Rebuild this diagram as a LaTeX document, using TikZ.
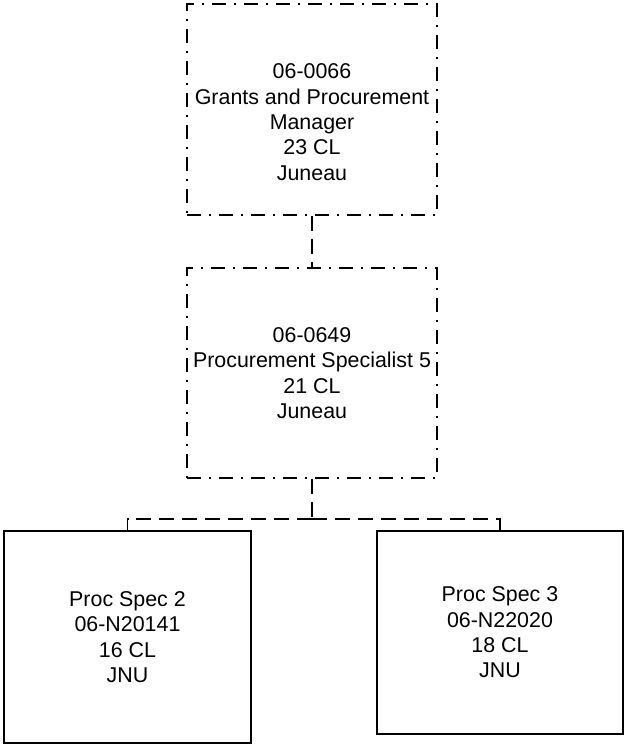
\documentclass[tikz,border=0pt]{standalone}
\usepackage{fontspec}
\setmainfont{Liberation Sans}
\usetikzlibrary{positioning}
\begin{document}
\begin{tikzpicture}[x=1pt,y=-1pt,
  lw/.style={line width=1.8pt},
  dashdot/.style={lw, dash pattern=on 14pt off 8pt on 2pt off 8pt},
  dashline/.style={lw, dash pattern=on 15pt off 8pt},
  posbox/.style={draw, lw, rectangle, inner sep=0pt, align=center,
     font=\fontsize{21.4}{25.3}\selectfont},
  mgrbox/.style={posbox, dashdot},
  conn/.style={dashline}
]
\useasboundingbox (0,0) rectangle (627,744);
\node[mgrbox, minimum width=250pt, minimum height=211pt] (b1) at (312,109.5)
  {\rule{0pt}{15pt}\\06-0066\\Grants and Procurement\\Manager\\23 CL\\Juneau};
\node[mgrbox, minimum width=250pt, minimum height=210pt] (b2) at (312,373)
  {06-0649\\Procurement Specialist 5\\21 CL\\Juneau};
\node[posbox, minimum width=247pt, minimum height=212pt] (b3) at (127.5,637)
  {Proc Spec 2\\06-N20141\\16 CL\\JNU};
\node[posbox, minimum width=246pt, minimum height=203pt] (b4) at (500,632.5)
  {Proc Spec 3\\06-N22020\\18 CL\\JNU};
\coordinate (j) at (312,519);
\draw[conn] (b1.south) -- (b2.north);
\draw[conn] (b2.south) -- (j);
\draw[conn] (j) -| (b3.north);
\draw[conn] (j) -| (b4.north);
\end{tikzpicture}
\end{document}
